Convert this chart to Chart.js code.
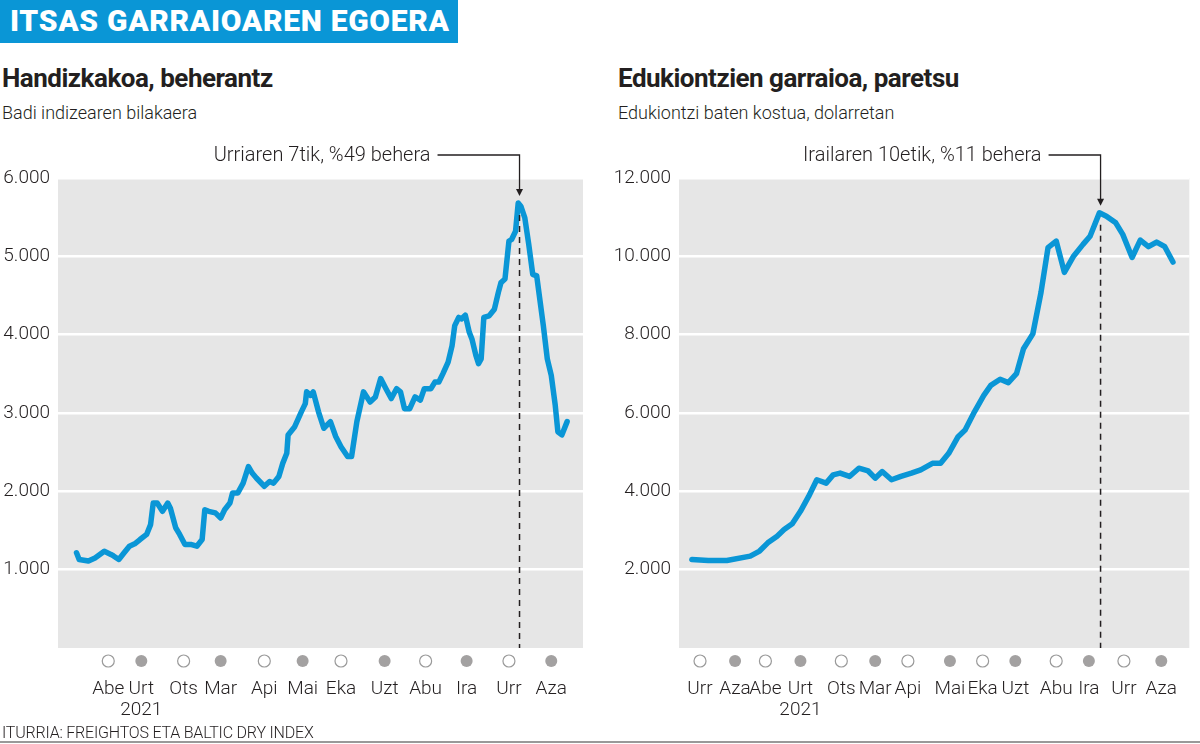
<!DOCTYPE html>
<html>
<head>
<meta charset="utf-8">
<script src="https://cdn.jsdelivr.net/npm/chart.js@4"></script>
<style>
body { margin:0; width:1200px; height:744px; background:#fff; position:relative; overflow:hidden; font-family:Roboto, sans-serif; color:#231f20; }
#banner { position:absolute; left:0; top:0; width:458px; height:43px; background:#0a96d6; }
#banner span { position:absolute; left:10px; top:3px; font:900 30px Roboto, sans-serif; letter-spacing:0.7px; color:#fff; white-space:nowrap; }
.head { position:absolute; top:63px; font:bold 26px Roboto, sans-serif; letter-spacing:-0.5px; white-space:nowrap; }
.sub { position:absolute; top:102px; font:300 18px Roboto, sans-serif; white-space:nowrap; }
.wrap { position:absolute; top:130px; width:600px; height:600px; }
#foot { position:absolute; left:2px; top:723px; font:300 16px Roboto, sans-serif; letter-spacing:-0.2px; white-space:nowrap; }
#rule { position:absolute; left:0; top:741px; width:1200px; height:2px; background:#999; }
</style>
</head>
<body>
<div id="banner"><span>ITSAS GARRAIOAREN EGOERA</span></div>
<div class="head" style="left:2px">Handizkakoa, beherantz</div>
<div class="sub" style="left:2px">Badi indizearen bilakaera</div>
<div class="head" style="left:618px">Edukiontzien garraioa, paretsu</div>
<div class="sub" style="left:618px">Edukiontzi baten kostua, dolarretan</div>
<div class="wrap" style="left:0"><canvas id="bdi" width="600" height="600"></canvas></div>
<div class="wrap" style="left:600px"><canvas id="cost" width="600" height="600"></canvas></div>
<div id="foot">ITURRIA: FREIGHTOS ETA BALTIC DRY INDEX</div>
<div id="rule"></div>
<script>
// Baltic Dry Index, days counted from 2020-11-01
const bdiDays = [6,8,15,20,27,32,34,38,42,46,50,54,59,62,64,67,71,75,77,81,84,88,93,97,101,103,106,111,115,118,
  122,124,128,132,136,139,142,148,152,155,159,162,165,166,171,176,179,180,183,185,189,193,198,202,206,211,214,218,223,228,
  232,236,240,244,248,251,254,258,262,266,269,274,277,280,283,287,290,292,295,297,300,303,305,308,310,312,314,318,322,325,
  327,330,333,335,338,340,342,345,348,351,354,356,359,362,365,368,370,373,377];
const bdiValues = [1215,1130,1110,1150,1235,1195,1175,1130,1215,1300,1330,1385,1450,1575,1850,1850,1745,1850,1785,1535,
  1450,1320,1320,1300,1385,1765,1745,1725,1660,1765,1850,1980,1980,2105,2315,2230,2170,2065,2125,2105,
  2190,2360,2485,2720,2825,3015,3120,3270,3225,3270,3015,2805,2890,2700,2570,2445,2445,2890,3270,3140,
  3205,3440,3310,3185,3310,3270,3055,3055,3205,3165,3310,3310,3395,3395,3500,3650,3860,4115,4220,4200,
  4250,4030,3945,3735,3630,3690,4220,4240,4325,4540,4665,4710,5195,5215,5320,5680,5640,5490,5150,4770,
  4750,4495,4115,3690,3480,3100,2760,2720,2890];
const bdiMonthDays = [30,55,87,115,148,177,206,239,270,301,333,365];
const bdiMonthLabels = ['Abe','Urt','Ots','Mar','Api','Mai','Eka','Uzt','Abu','Ira','Urr','Aza'];
const bdiTicks = [1000,2000,3000,4000,5000,6000];

// Freightos container cost, days counted from 2020-10-01
const costDays = [-7,7,23,43,51,58,66,72,79,86,93,100,108,114,120,128,136,144,150,156,164,172,181,189,199,206,213,221,227,235,
  243,249,257,264,271,277,285,292,298,305,312,320,328,334,342,348,356,362,370,377,384,391,398,405];
const costValues = [2260,2235,2235,2345,2475,2685,2855,3025,3170,3490,3870,4295,4210,4420,4465,4380,4590,4520,4335,4505,
  4295,4380,4465,4550,4715,4715,4970,5395,5565,6030,6450,6705,6860,6775,7005,7640,8020,9080,10220,10390,
  9590,10010,10305,10515,11110,11025,10855,10560,9970,10415,10245,10365,10245,9855];
const costMonthDays = [0,30,56,86,121,150,178,214,242,270,305,333,363,395];
const costMonthLabels = ['Urr','Aza','Abe','Urt','Ots','Mar','Api','Mai','Eka','Uzt','Abu','Ira','Urr','Aza'];
const costTicks = [2000,4000,6000,8000,10000,12000];

const yearLabel = 'Urt', yearText = '2021';
const ink = '#231f20', blue = '#0a96d6';
const fmt = v => String(v).replace(/\B(?=(\d{3})+(?!\d))/g, '.');

const panelBg = {
  id: 'panelBg',
  beforeDraw(chart) {
    const a = chart.chartArea, ctx = chart.ctx;
    ctx.save();
    ctx.fillStyle = '#e6e6e6';
    ctx.fillRect(a.left, a.top, a.right - a.left, a.bottom - a.top);
    ctx.restore();
  }
};

const monthDots = {
  id: 'monthDots',
  afterDraw(chart) {
    const x = chart.scales.x, ctx = chart.ctx, y = chart.chartArea.bottom + 13;
    ctx.save();
    x.ticks.forEach((t, i) => {
      ctx.beginPath();
      ctx.arc(x.getPixelForValue(t.value), y, 6, 0, Math.PI * 2);
      if (i % 2) {
        ctx.fillStyle = '#a3a1a1';
        ctx.fill();
      } else {
        ctx.fillStyle = '#fff';
        ctx.fill();
        ctx.lineWidth = 1.2;
        ctx.strokeStyle = '#9a9a9a';
        ctx.stroke();
      }
    });
    ctx.restore();
  }
};

function peakNote(day, value, text, gap) {
  return {
    id: 'peakNote',
    afterDraw(chart) {
      const ctx = chart.ctx, a = chart.chartArea;
      const px = chart.scales.x.getPixelForValue(day);
      const py = chart.scales.y.getPixelForValue(value);
      const ly = 25, tip = py - 7;
      ctx.save();
      ctx.strokeStyle = ink;
      ctx.fillStyle = ink;
      ctx.lineWidth = 1.3;
      ctx.beginPath();
      ctx.moveTo(px - gap, ly);
      ctx.lineTo(px, ly);
      ctx.lineTo(px, tip - 6);
      ctx.stroke();
      ctx.beginPath();
      ctx.moveTo(px - 3.5, tip - 7);
      ctx.lineTo(px + 3.5, tip - 7);
      ctx.lineTo(px, tip);
      ctx.closePath();
      ctx.fill();
      ctx.setLineDash([6, 5]);
      ctx.lineWidth = 1.5;
      ctx.beginPath();
      ctx.moveTo(px, py + 12);
      ctx.lineTo(px, a.bottom);
      ctx.stroke();
      ctx.setLineDash([]);
      ctx.font = '300 20px Roboto, sans-serif';
      ctx.textAlign = 'right';
      ctx.textBaseline = 'middle';
      ctx.fillText(text, px - gap - 7, ly + 1);
      ctx.restore();
    }
  };
}

function makeChart(id, days, values, monthDays, monthLabels, yTicks, xMin, xMax, yMax, axisWidth, padRight, note) {
  return new Chart(document.getElementById(id), {
    type: 'line',
    data: {
      datasets: [{
        data: days.map((d, i) => ({ x: d, y: values[i] })),
        borderColor: blue,
        borderWidth: 5.5,
        pointRadius: 0,
        tension: 0,
        borderJoinStyle: 'round',
        borderCapStyle: 'round'
      }]
    },
    options: {
      responsive: false,
      animation: false,
      layout: { padding: { top: 48, right: padRight, left: 0, bottom: 0 } },
      plugins: { legend: { display: false }, tooltip: { enabled: false } },
      scales: {
        x: {
          type: 'linear',
          min: xMin,
          max: xMax,
          grid: { display: false },
          border: { display: false },
          afterBuildTicks: s => { s.ticks = monthDays.map(v => ({ value: v })); },
          afterFit: s => { s.height = 82; },
          ticks: {
            autoSkip: false,
            maxRotation: 0,
            padding: 23,
            color: ink,
            font: { family: 'Roboto', size: 19, weight: 300, lineHeight: 1.1 },
            callback: (v, i) => monthLabels[i] === yearLabel && monthLabels.indexOf(yearLabel) === i ? [yearLabel, yearText] : monthLabels[i]
          }
        },
        y: {
          min: 0,
          max: yMax,
          grid: { color: '#fff', lineWidth: 2.5, drawTicks: false },
          border: { display: false },
          afterBuildTicks: s => { s.ticks = yTicks.map(v => ({ value: v })); },
          afterFit: s => { s.width = axisWidth; },
          ticks: {
            padding: 8,
            color: ink,
            font: { family: 'Roboto', size: 19, weight: 300 },
            callback: v => fmt(v)
          }
        }
      }
    },
    plugins: [panelBg, monthDots, note]
  });
}

makeChart('bdi', bdiDays, bdiValues, bdiMonthDays, bdiMonthLabels, bdiTicks, -8, 389, 6000, 58, 17,
  peakNote(341, 5680, 'Urriaren 7tik, %49 behera', 82));
makeChart('cost', costDays, costValues, costMonthDays, costMonthLabels, costTicks, -18, 419, 12000, 79, 0,
  peakNote(343, 11110, 'Irailaren 10etik, %11 behera', 52));
</script>
</body>
</html>
